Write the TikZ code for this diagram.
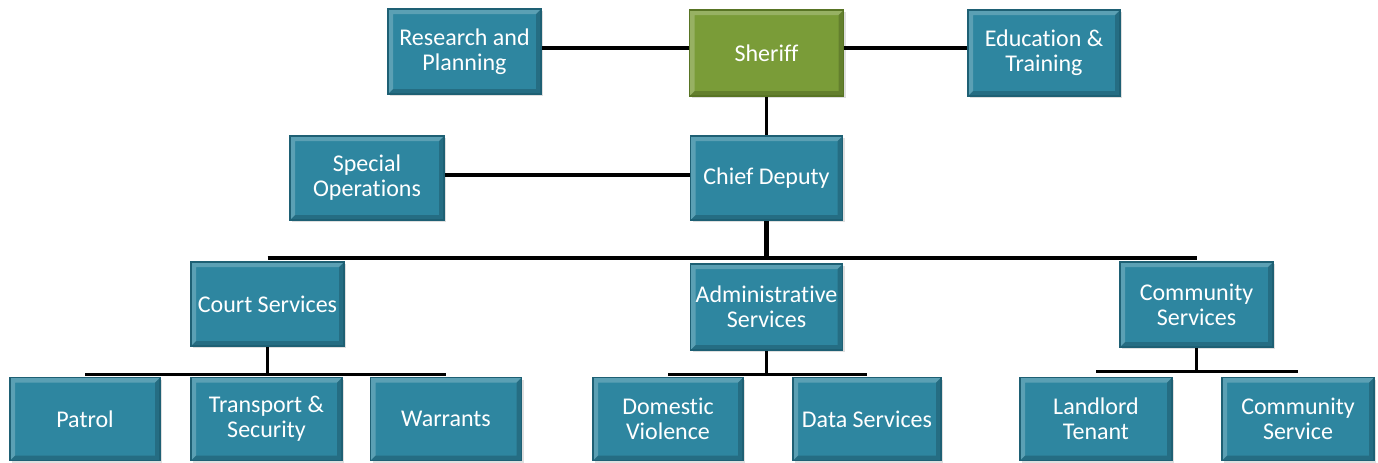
\documentclass[tikz,border=0pt]{standalone}
\usepackage{fontspec}
\setmainfont{Carlito}[Ligatures=NoCommon]
\usetikzlibrary{shadows}
\definecolor{tealfill}{RGB}{46,134,160}
\definecolor{tealedge}{RGB}{30,96,116}
\definecolor{greenfill}{RGB}{122,156,56}
\definecolor{greenedge}{RGB}{88,116,36}
\tikzset{
  orgbox/.style={rectangle, fill=tealfill, draw=tealedge, line width=0.8pt,
    text=white, align=center, inner sep=2pt,
    font=\fontsize{12}{12.5}\selectfont,
    minimum width=76pt, minimum height=42pt,
    drop shadow={shadow xshift=1pt, shadow yshift=-1pt, fill=black!25, opacity=0.5},
    path picture={
      \fill[white,opacity=0.22] (path picture bounding box.north west) -- (path picture bounding box.north east)
        -- ([xshift=-2.5pt,yshift=-2.5pt]path picture bounding box.north east) -- ([xshift=2.5pt,yshift=-2.5pt]path picture bounding box.north west)
        -- ([xshift=2.5pt,yshift=2.5pt]path picture bounding box.south west) -- (path picture bounding box.south west) -- cycle;
      \fill[black,opacity=0.18] (path picture bounding box.south west) -- (path picture bounding box.south east)
        -- (path picture bounding box.north east) -- ([xshift=-2.5pt,yshift=-2.5pt]path picture bounding box.north east)
        -- ([xshift=-2.5pt,yshift=2.5pt]path picture bounding box.south east) -- ([xshift=2.5pt,yshift=2.5pt]path picture bounding box.south west) -- cycle;
    }},
  greenbox/.style={orgbox, fill=greenfill, draw=greenedge},
  link/.style={draw=black, line width=1.6pt},
  buslink/.style={draw=black, line width=2pt},
  trunk/.style={draw=black, line width=2.6pt},
}
\begin{document}
\begin{tikzpicture}[x=0.5pt,y=-0.5pt]
\useasboundingbox (0,0) rectangle (1378,462);
% top row
\node[orgbox, minimum width=76.5pt, minimum height=42.5pt] (rp) at (464.5,51.5) {Research and\\Planning};
\node[greenbox, minimum width=77pt, minimum height=43pt] (sh) at (766.5,53) {Sheriff};
\node[orgbox, minimum width=76pt, minimum height=43pt] (et) at (1044,53) {Education \&\\Training};
% second row
\node[orgbox, minimum width=77pt, minimum height=42pt] (so) at (367,178) {Special\\Operations};
\node[orgbox, minimum width=76pt, minimum height=42pt] (cd) at (766.5,178) {Chief Deputy};
% third row
\node[orgbox, minimum width=76.5pt, minimum height=42pt] (cs) at (267.5,304) {Court Services};
\node[orgbox, minimum width=76pt, minimum height=43pt] (as) at (766.5,307) {Administrative\\Services};
\node[orgbox, minimum width=76.5pt, minimum height=42.5pt] (cms) at (1196.5,304.5) {Community\\Services};
% bottom row
\node[orgbox, minimum width=75pt, minimum height=41.5pt] (pa) at (85,419) {Patrol};
\node[orgbox, minimum width=75.5pt, minimum height=41.5pt] (ts) at (266.5,419) {Transport \&\\Security};
\node[orgbox, minimum width=75.5pt, minimum height=41.5pt] (wa) at (446,419) {Warrants};
\node[orgbox, minimum width=75pt, minimum height=41.5pt] (dv) at (668,419) {Domestic\\Violence};
\node[orgbox, minimum width=74pt, minimum height=41.5pt] (ds) at (867,419) {Data Services};
\node[orgbox, minimum width=76pt, minimum height=41.5pt] (lt) at (1096,419) {Landlord\\Tenant};
\node[orgbox, minimum width=76pt, minimum height=41.5pt] (csv) at (1298,419) {Community\\Service};
% connectors
\draw[link] (rp.east |- 0,48) -- (sh.west |- 0,48);
\draw[link] (sh.east |- 0,48) -- (et.west |- 0,48);
\draw[link] (sh.south) -- (cd.north);
\draw[link] (so.east |- 0,175) -- (cd.west |- 0,175);
\coordinate (busL) at ([yshift=1.5pt]cs.north);
\coordinate (busR) at (busL -| cms.north);
\draw[buslink] (busL) -- (busR);
\draw[trunk] (cd.south) -- (cd.south |- busL);
% court services subtree
\coordinate (csL) at ([yshift=1pt]pa.north);
\coordinate (csR) at (csL -| wa.north);
\draw[link] (csL) -- (csR);
\draw[link] (cs.south) -- (cs.south |- csL);
% admin subtree
\coordinate (asL) at ([yshift=1pt]dv.north);
\coordinate (asR) at (asL -| ds.north);
\draw[link] (asL) -- (asR);
\draw[link] (as.south) -- (as.south |- asL);
% community subtree
\coordinate (cmL) at ([yshift=2.5pt]lt.north);
\coordinate (cmR) at (cmL -| csv.north);
\draw[link] (cmL) -- (cmR);
\draw[link] (cms.south) -- (cms.south |- cmL);
\end{tikzpicture}
\end{document}
